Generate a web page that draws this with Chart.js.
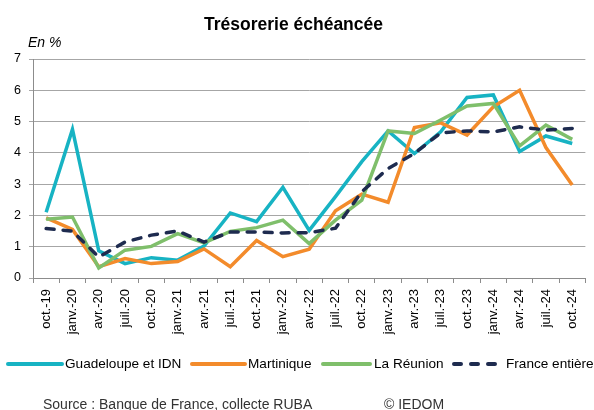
<!DOCTYPE html>
<html>
<head>
<meta charset="utf-8">
<script src="https://cdn.jsdelivr.net/npm/chart.js@4/dist/chart.umd.min.js"></script>
<style>
  html, body { margin: 0; padding: 0; background: #fff; }
  #wrap { width: 594px; height: 410px; position: relative; }
</style>
</head>
<body>
<div id="wrap"><canvas id="chart" width="594" height="410"></canvas></div>
<script>
// Trésorerie échéancée - données trimestrielles (en %)
const categories = ['oct.-19', 'janv.-20', 'avr.-20', 'juil.-20', 'oct.-20', 'janv.-21', 'avr.-21',
    'juil.-21', 'oct.-21', 'janv.-22', 'avr.-22', 'juil.-22', 'oct.-22', 'janv.-23', 'avr.-23',
    'juil.-23', 'oct.-23', 'janv.-24', 'avr.-24', 'juil.-24', 'oct.-24'];

const guadeloupe = [2.1, 4.75, 0.87, 0.46, 0.65, 0.57, 1.02, 2.08, 1.8, 2.9, 1.52,
    2.6, 3.72, 4.7, 3.98, 4.67, 5.77, 5.85, 4.04, 4.54, 4.3];
const martinique = [1.92, 1.55, 0.36, 0.62, 0.46, 0.53, 0.93, 0.36, 1.2, 0.68, 0.92,
    2.15, 2.68, 2.42, 4.81, 4.96, 4.57, 5.47, 6.0, 4.17, 2.97];
const reunion = [1.88, 1.95, 0.32, 0.89, 1.01, 1.42, 1.12, 1.49, 1.61, 1.85, 1.1,
    1.85, 2.49, 4.7, 4.62, 5.05, 5.5, 5.58, 4.22, 4.89, 4.43];
const france = [1.58, 1.5, 0.67, 1.15, 1.37, 1.5, 1.15, 1.47, 1.47, 1.44, 1.45,
    1.59, 2.76, 3.5, 3.98, 4.64, 4.7, 4.67, 4.83, 4.73, 4.78];

const yTicks = [0, 1, 2, 3, 4, 5, 6, 7];

const FONT = 'Arial, "Liberation Sans", sans-serif';

const textPlugin = {
    id: 'extraText',
    afterDraw(chart) {
        const ctx = chart.ctx;
        ctx.save();
        ctx.fillStyle = '#000';
        ctx.font = 'italic 14px ' + FONT;
        ctx.textBaseline = 'middle';
        ctx.textAlign = 'left';
        ctx.fillText('En %', 28, 43);

        // legende (dessinée à la main pour avoir les tirets)
        const legendY = 364;
        const items = [
            { x0: 8, x1: 62, tx: 65 },
            { x0: 192, x1: 245, tx: 248 },
            { x0: 323, x1: 370, tx: 374 },
            { x0: 454, x1: 498, tx: 506 }
        ];
        ctx.font = '13.6px ' + FONT;
        chart.data.datasets.forEach((ds, i) => {
            const it = items[i];
            ctx.beginPath();
            ctx.strokeStyle = ds.borderColor;
            ctx.lineWidth = 4;
            ctx.lineCap = 'round';
            ctx.setLineDash(ds.borderDash ? [7, 10] : []);
            ctx.moveTo(it.x0, legendY);
            ctx.lineTo(it.x1, legendY);
            ctx.stroke();
            ctx.setLineDash([]);
            ctx.fillStyle = '#000';
            ctx.fillText(ds.label, it.tx, legendY);
        });

        ctx.fillStyle = '#333';
        ctx.font = '14px ' + FONT;
        ctx.fillText('Source : Banque de France, collecte RUBA', 43, 405);
        ctx.fillText('© IEDOM', 384, 405);
        ctx.restore();
    }
};

new Chart(document.getElementById('chart'), {
    type: 'line',
    data: {
        labels: categories,
        datasets: [
            { label: 'Guadeloupe et IDN', data: guadeloupe, borderColor: '#17B3C3', order: 4 },
            { label: 'Martinique', data: martinique, borderColor: '#F38B2B', order: 3 },
            { label: 'La Réunion', data: reunion, borderColor: '#7FBF6B', order: 2 },
            { label: 'France entière', data: france, borderColor: '#1E2B4F', borderDash: [8, 9],
              borderCapStyle: 'round', order: 1 }
        ]
    },
    options: {
        responsive: false,
        animation: false,
        layout: { padding: { left: 0, right: 7, top: 0, bottom: 62 } },
        elements: {
            line: { borderWidth: 3.5, tension: 0, fill: false, borderCapStyle: 'butt' },
            point: { radius: 0, hoverRadius: 0 }
        },
        plugins: {
            legend: { display: false },
            tooltip: { enabled: false },
            title: {
                display: true,
                text: 'Trésorerie échéancée',
                color: '#000',
                font: { family: FONT, size: 17.5, weight: 'bold', lineHeight: 1.2 },
                padding: { top: 15, bottom: 23 }
            }
        },
        scales: {
            x: {
                offset: true,
                grid: { drawOnChartArea: false, drawTicks: true, tickLength: 5, color: '#8c8c8c', offset: true },
                border: { color: '#8c8c8c' },
                ticks: {
                    color: '#000',
                    font: { family: FONT, size: 13 },
                    maxRotation: 90, minRotation: 90,
                    autoSkip: false, padding: 6
                },
                afterFit(scale) { scale.height = 70; }
            },
            y: {
                min: 0, max: 7,
                afterBuildTicks(scale) { scale.ticks = yTicks.map(v => ({ value: v })); },
                grid: { color: '#a6a6a6', tickLength: 4, lineWidth: 1 },
                border: { color: '#8c8c8c' },
                ticks: { color: '#000', font: { family: FONT, size: 12.5 }, padding: 8 },
                afterFit(scale) { scale.width = 33; }
            }
        }
    },
    plugins: [textPlugin]
});
</script>
</body>
</html>
